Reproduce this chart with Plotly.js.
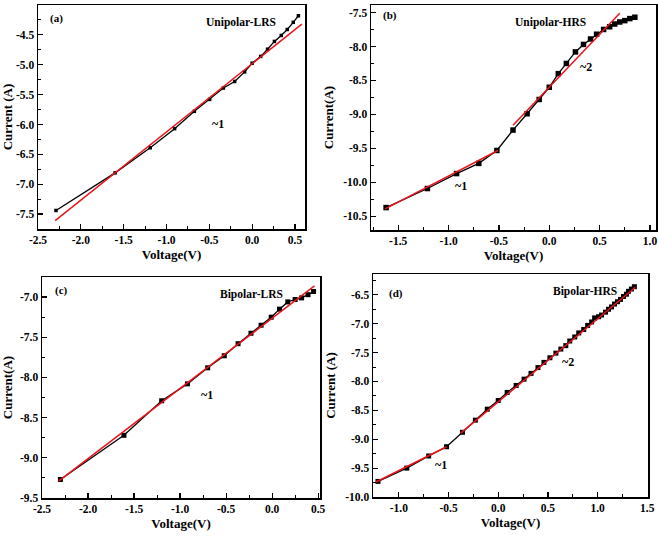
<!DOCTYPE html>
<html>
<head>
<meta charset="utf-8">
<script src="https://cdn.plot.ly/plotly-3.0.1.min.js"></script>
<style>html,body{margin:0;padding:0;background:#fff;}#chart{width:658px;height:536px;}</style>
</head>
<body>
<div id="chart"></div>
<script>
// ---- data ----
const aV = [-2.29,-1.60,-1.19,-0.905,-0.675,-0.496,-0.336,-0.204,-0.088,0.00,0.10,0.18,0.26,0.34,0.41,0.48,0.54];
const aI = [-7.44,-6.81,-6.39,-6.07,-5.78,-5.58,-5.39,-5.28,-5.12,-4.975,-4.86,-4.74,-4.61,-4.51,-4.41,-4.29,-4.18];
const aFitV = [-2.30, 0.58];
const aFitI = [-7.61, -4.32];

const bV = [-1.62,-1.21,-0.92,-0.70,-0.52,-0.36,-0.22,-0.10,0.00,0.09,0.17,0.26,0.34,0.41,0.47,0.54,0.60,0.65,0.70,0.75,0.80,0.85];
const bI = [-10.37,-10.09,-9.87,-9.72,-9.53,-9.23,-8.99,-8.78,-8.60,-8.40,-8.25,-8.08,-7.97,-7.89,-7.82,-7.75,-7.71,-7.67,-7.64,-7.62,-7.59,-7.57];
const bFit1V = [-1.63, -0.51];
const bFit1I = [-10.39, -9.53];
const bFit2V = [-0.36, 0.70];
const bFit2I = [-9.16, -7.51];

const cV = [-2.30,-1.61,-1.20,-0.92,-0.70,-0.52,-0.37,-0.23,-0.12,-0.01,0.08,0.17,0.25,0.32,0.39,0.45];
const cI = [-9.27,-8.72,-8.29,-8.08,-7.88,-7.73,-7.58,-7.45,-7.35,-7.25,-7.15,-7.06,-7.03,-7.01,-6.97,-6.93];
const cFitV = [-2.32, 0.46];
const cFitI = [-9.29, -6.86];

const dV = [-1.21,-0.92,-0.70,-0.52,-0.36,-0.23,-0.11,0.00,0.09,0.18,0.26,0.33,0.40,0.46,0.52,0.58,0.63,0.68,0.72,0.77,0.81,0.86,0.90,0.94,0.97,1.01,1.04,1.08,1.11,1.14,1.17,1.20,1.23,1.26,1.29,1.31,1.34,1.37];
const dI = [-9.73,-9.50,-9.29,-9.13,-8.88,-8.67,-8.48,-8.33,-8.19,-8.07,-7.96,-7.86,-7.76,-7.67,-7.59,-7.51,-7.44,-7.38,-7.30,-7.23,-7.16,-7.10,-7.03,-6.97,-6.90,-6.88,-6.85,-6.80,-6.75,-6.71,-6.66,-6.62,-6.58,-6.53,-6.49,-6.44,-6.40,-6.36];
const dFit1V = [-1.23, -0.52];
const dFit1I = [-9.74, -9.13];
const dFit2V = [-0.38, 1.38];
const dFit2I = [-8.90, -6.37];

// ---- tick labels ----
const aXT = [-2.5,-2.0,-1.5,-1.0,-0.5,0.0,0.5];
const aYT = [-7.5,-7.0,-6.5,-6.0,-5.5,-5.0,-4.5,-4.0];
const bXT = [-1.5,-1.0,-0.5,0.0,0.5,1.0];
const bYT = [-10.5,-10.0,-9.5,-9.0,-8.5,-8.0,-7.5];
const cXT = [-2.5,-2.0,-1.5,-1.0,-0.5,0.0,0.5];
const cYT = [-9.5,-9.0,-8.5,-8.0,-7.5,-7.0];
const dXT = [-1.0,-0.5,0.0,0.5,1.0,1.5];
const dYT = [-10.0,-9.5,-9.0,-8.5,-8.0,-7.5,-7.0,-6.5];

// ---- titles / labels ----
const xTitle = 'Voltage(V)';
const yTitles = ['Current (A)', 'Current(A)', 'Current(A)', 'Current (A)'];
const panelTags = ['(a)', '(b)', '(c)', '(d)'];
const panelNames = ['Unipolar-LRS', 'Unipolar-HRS', 'Bipolar-LRS', 'Bipolar-HRS'];

const FONT = 'Liberation Serif, Times New Roman, serif';
const RED = '#e8141c';

function dataTrace(x, y, xa, ya, msize) {
  return {x: x, y: y, xaxis: xa, yaxis: ya, type: 'scatter', mode: 'lines+markers',
    line: {color: '#000', width: 1.3}, marker: {symbol: 'square', size: msize, color: '#000'},
    showlegend: false, hoverinfo: 'x+y'};
}
function fitTrace(x, y, xa, ya) {
  return {x: x, y: y, xaxis: xa, yaxis: ya, type: 'scatter', mode: 'lines',
    line: {color: RED, width: 1.5}, showlegend: false, hoverinfo: 'skip'};
}

const traces = [
  dataTrace(aV, aI, 'x', 'y', 3.5), fitTrace(aFitV, aFitI, 'x', 'y'),
  dataTrace(bV, bI, 'x2', 'y2', 5.5), fitTrace(bFit1V, bFit1I, 'x2', 'y2'), fitTrace(bFit2V, bFit2I, 'x2', 'y2'),
  dataTrace(cV, cI, 'x3', 'y3', 5), fitTrace(cFitV, cFitI, 'x3', 'y3'),
  dataTrace(dV, dI, 'x4', 'y4', 5), fitTrace(dFit1V, dFit1I, 'x4', 'y4'), fitTrace(dFit2V, dFit2I, 'x4', 'y4')
];

const W = 658, H = 536;
function ax(domainPx, range, tvals, title, isY, anchor) {
  const dom = isY ? [1 - domainPx[1] / H, 1 - domainPx[0] / H] : [domainPx[0] / W, domainPx[1] / W];
  const minorVals = [];
  for (let i = 0; i < tvals.length; i++) {
    minorVals.push(tvals[i] - 0.25);
    if (i === tvals.length - 1) minorVals.push(tvals[i] + 0.25);
  }
  return {
    domain: dom, range: range, anchor: anchor,
    tickmode: 'array', tickvals: tvals, ticktext: tvals.map(v => '<b>' + v.toFixed(1) + '</b>'),
    ticks: 'inside', ticklen: 5, tickwidth: 1.2, tickcolor: '#000',
    minor: {tickmode: 'array', tickvals: minorVals, ticks: 'inside', ticklen: 3, tickwidth: 1, tickcolor: '#000'},
    showline: true, linecolor: '#000', linewidth: 1.5, mirror: true,
    showgrid: false, zeroline: false,
    tickfont: {family: FONT, size: 11.5, color: '#000'},
    title: {text: '<b>' + title + '</b>', font: {family: FONT, size: 13, color: '#000'}, standoff: isY ? 6 : 4}
  };
}

const layout = {
  width: W, height: H, margin: {l: 0, r: 0, t: 0, b: 0},
  paper_bgcolor: '#fff', plot_bgcolor: '#fff', showlegend: false,
  xaxis:  ax([38, 305], [-2.5, 0.617], aXT, xTitle, false, 'y'),
  yaxis:  ax([5, 229], [-7.75, -4.0], aYT, yTitles[0], true, 'x'),
  xaxis2: ax([371, 656], [-1.77, 1.06], bXT, xTitle, false, 'y2'),
  yaxis2: ax([5, 230], [-10.7, -7.39], bYT, yTitles[1], true, 'x2'),
  xaxis3: ax([42, 320], [-2.5, 0.52], cXT, xTitle, false, 'y3'),
  yaxis3: ax([277, 498], [-9.5, -6.75], cYT, yTitles[2], true, 'x3'),
  xaxis4: ax([373, 648], [-1.26, 1.507], dXT, xTitle, false, 'y4'),
  yaxis4: ax([274, 497], [-10.0, -6.14], dYT, yTitles[3], true, 'x4'),
  annotations: []
};

function ann(text, x, y, xr, yr, size) {
  return {text: '<b>' + text + '</b>', x: x, y: y, xref: xr, yref: yr, showarrow: false,
    xanchor: 'center', yanchor: 'middle',
    font: {family: FONT, size: size, color: '#000'}};
}
layout.annotations.push(
  ann(panelTags[0], -2.28, -4.22, 'x', 'y', 11),
  ann(panelNames[0], -0.13, -4.30, 'x', 'y', 11.5),
  ann('~1', -0.40, -5.99, 'x', 'y', 12),
  ann(panelTags[1], -1.58, -7.55, 'x2', 'y2', 11),
  ann(panelNames[1], 0.01, -7.65, 'x2', 'y2', 11.5),
  ann('~1', -0.875, -10.05, 'x2', 'y2', 12),
  ann('~2', 0.365, -8.30, 'x2', 'y2', 12),
  ann(panelTags[2], -2.29, -6.92, 'x3', 'y3', 11),
  ann(panelNames[2], -0.225, -6.97, 'x3', 'y3', 11.5),
  ann('~1', -0.71, -8.22, 'x3', 'y3', 12),
  ann(panelTags[3], -1.03, -6.47, 'x4', 'y4', 11),
  ann(panelNames[3], 0.87, -6.44, 'x4', 'y4', 11.5),
  ann('~1', -0.575, -9.44, 'x4', 'y4', 12),
  ann('~2', 0.70, -7.66, 'x4', 'y4', 12)
);

Plotly.newPlot('chart', traces, layout, {staticPlot: true, displayModeBar: false});
</script>
</body>
</html>
